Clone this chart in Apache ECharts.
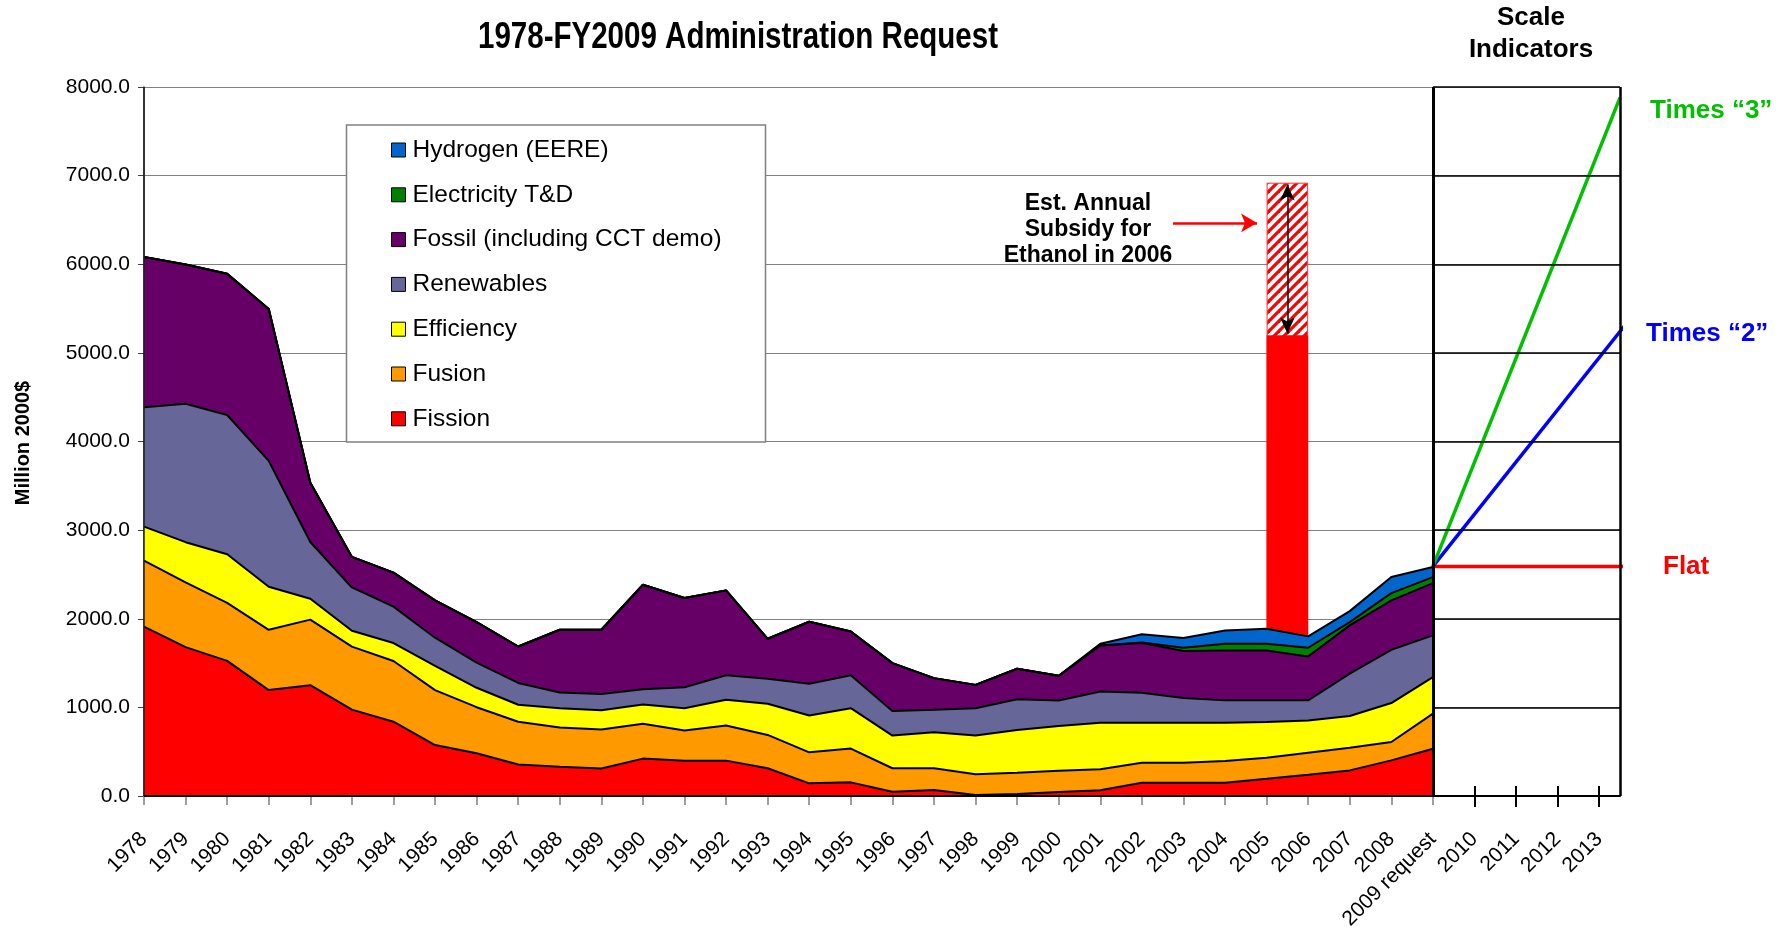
<!DOCTYPE html>
<html>
<head>
<meta charset="utf-8">
<script src="https://cdn.jsdelivr.net/npm/echarts@6/dist/echarts.min.js"></script>
<style>
  html, body { margin: 0; padding: 0; background: #fff; }
  #main { width: 1790px; height: 936px; }
</style>
</head>
<body>
<div id="main"></div>
<script>
// categories on the x axis (index = position on the value axis)
var years = ['1978','1979','1980','1981','1982','1983','1984','1985','1986','1987',
  '1988','1989','1990','1991','1992','1993','1994','1995','1996','1997',
  '1998','1999','2000','2001','2002','2003','2004','2005','2006','2007',
  '2008','2009 request'];
var futureYears = ['2010','2011','2012','2013'];
var yTicks = [0, 1000, 2000, 3000, 4000, 5000, 6000, 7000, 8000];

// Million 2000$, one value per year
var fission = [1910,1680,1525,1195,1250,975,838,575,482,356,
  331,310,422,399,399,313,143,154,49,68,
  11,22,45,64,150,150,150,195,241,289,
  402,534];
var fusion = [745,730,655,680,740,710,685,620,520,482,
  441,440,392,339,396,376,350,381,264,245,
  234,240,241,237,226,226,245,237,248,256,
  207,395];
var efficiency = [384,454,547,487,235,180,203,274,219,192,
  219,218,218,253,290,351,415,456,369,406,
  437,482,504,526,451,451,432,403,364,357,
  440,413];
var renewables = [1347,1561,1572,1419,641,488,411,317,285,246,
  177,184,173,237,278,282,358,372,278,253,
  309,347,288,353,338,278,252,244,226,478,
  601,470];
var fossil = [1697,1572,1594,1714,668,345,383,422,455,411,
  708,724,1179,1006,957,452,700,494,539,358,
  263,345,278,519,561,530,564,564,496,545,
  557,590];
var electricity = [0,0,0,0,0,0,0,0,0,0,
  0,0,0,0,0,0,0,0,0,0,
  0,0,0,0,5,38,75,75,98,37,
  82,68];
var hydrogen = [0,0,0,0,0,0,0,0,0,0,
  0,0,0,0,0,0,0,0,0,0,
  0,0,0,19,94,109,150,169,128,124,
  181,113];

// ethanol subsidy bar, placed between 2005 and 2006
var ethanolPos = 27.5;
var ethanolBase = 5200;
var ethanolSubsidy = 1720;

// scale indicator lines starting from the 2009 request total
var flatLine = [[31, 2590], [35.6, 2590]];
var times2Line = [[31, 2590], [35.6, 5300]];
var times3Line = [[31, 2590], [35.5, 7880]];

var arial = '"Liberation Sans", Arial, sans-serif';

var gridLeft = 144, gridRight = 170, gridTop = 87, gridBottom = 140;
var xMax = 35.5;
var unitPx = (1790 - gridLeft - gridRight) / xMax;

function range(a, b) {
  var r = [];
  for (var i = a; i <= b; i++) r.push(i);
  return r;
}
function labelOf(v) {
  var all = years.concat(futureYears);
  return all[Math.round(v)] || '';
}

function hatch() {
  var c = document.createElement('canvas');
  c.width = 10; c.height = 10;
  var ctx = c.getContext('2d');
  ctx.fillStyle = '#ffffff';
  ctx.fillRect(0, 0, 10, 10);
  ctx.strokeStyle = '#ff0000';
  ctx.lineWidth = 3.2;
  for (var i = -10; i <= 10; i += 10) {
    ctx.beginPath();
    ctx.moveTo(i - 1, 11);
    ctx.lineTo(i + 11, -1);
    ctx.stroke();
  }
  return c;
}

// bottom to top
var layers = [
  { name: 'Fission', data: fission, color: '#ff0000' },
  { name: 'Fusion', data: fusion, color: '#ff9900' },
  { name: 'Efficiency', data: efficiency, color: '#ffff00' },
  { name: 'Renewables', data: renewables, color: '#666699' },
  { name: 'Fossil (including CCT demo)', data: fossil, color: '#660066' },
  { name: 'Electricity T&D', data: electricity, color: '#008000' },
  { name: 'Hydrogen (EERE)', data: hydrogen, color: '#0066cc' }
];

// value x axis does not stack on y, so add the layers up here
var running = years.map(function () { return 0; });
var series = layers.map(function (l) {
  running = running.map(function (s, i) { return s + l.data[i]; });
  return {
    name: l.name,
    type: 'line',
    z: 3,
    data: running.map(function (v, i) { return [i, v]; }),
    symbol: 'none',
    color: l.color,
    lineStyle: { color: '#000', width: 2 },
    areaStyle: { color: l.color, opacity: 1 }
  };
}).reverse();

function ln(c, w) { return { color: c, width: w, type: 'solid' }; }

var boxLines = [
  { xAxis: 0, lineStyle: ln('#202020', 1.5) },
  { yAxis: 0, lineStyle: ln('#000', 2) },
  { xAxis: 31, lineStyle: ln('#000', 3) },
  { xAxis: xMax, lineStyle: ln('#000', 2.5) }
];
yTicks.slice(1).forEach(function (v) {
  boxLines.push([{ coord: [31, v], lineStyle: ln('#000', 1.5) }, { coord: [xMax, v] }]);
});

series.push({
  name: 'ethanol subsidy',
  type: 'bar',
  z: 1,
  barWidth: unitPx,
  barGap: '-100%',
  data: [[ethanolPos, ethanolBase + ethanolSubsidy]],
  itemStyle: { color: { image: hatch(), repeat: 'repeat' }, borderColor: '#ff3333', borderWidth: 1 },
  markLine: {
    silent: true, animation: false, z: 6,
    label: { show: false },
    data: [
      [{ coord: [ethanolPos, ethanolBase + ethanolSubsidy - 20], symbol: 'arrow', symbolSize: [11, 16],
         lineStyle: ln('#000', 1.5) },
       { coord: [ethanolPos, ethanolBase + 20], symbol: 'arrow', symbolSize: [11, 16] }],
      [{ coord: [24.75, 6466], symbol: 'none', lineStyle: ln('#ff0000', 2.5) },
       { coord: [26.77, 6466], symbol: 'arrow', symbolSize: [14, 16] }]
    ]
  }
});
series.push({
  name: 'ethanol',
  type: 'bar',
  z: 1,
  barWidth: unitPx,
  barGap: '-100%',
  data: [[ethanolPos, ethanolBase]],
  itemStyle: { color: '#ff0000' }
});

series.push({
  name: 'Flat', type: 'line', z: 5, symbol: 'none', data: flatLine,
  lineStyle: { color: '#ff0000', width: 3.5 },
  markLine: {
    silent: true, animation: false, symbol: 'none', z: 6,
    label: { show: false },
    data: boxLines
  }
});
series.push({
  name: 'Times 2', type: 'line', z: 5, symbol: 'none', data: times2Line,
  lineStyle: { color: '#0000ff', width: 3.5 }
});
series.push({
  name: 'Times 3', type: 'line', z: 5, symbol: 'none', data: times3Line,
  lineStyle: { color: '#00c000', width: 3.5 }
});

var chart = echarts.init(document.getElementById('main'));
chart.setOption({
  animation: false,
  backgroundColor: '#fff',
  grid: { left: gridLeft, right: gridRight, top: gridTop, bottom: gridBottom, outerBoundsMode: 'none' },
  legend: {
    data: layers.map(function (l) { return l.name; }).reverse(),
    orient: 'vertical',
    left: 391, top: 135,
    padding: 0,
    itemGap: 14.8,
    itemWidth: 14, itemHeight: 14,
    icon: 'rect',
    z: 11,
    selectedMode: false,
    itemStyle: { borderColor: '#000', borderWidth: 1 },
    textStyle: { fontFamily: arial, fontSize: 24.5, lineHeight: 30, color: '#000', padding: [0, 0, 0, 2] }
  },
  xAxis: [{
    type: 'value', min: 0, max: xMax, position: 'bottom',
    axisLine: { show: true, onZero: false, lineStyle: { color: '#000', width: 2 } },
    axisTick: { show: true, customValues: range(0, 31), length: 9, lineStyle: { color: '#808080', width: 1.5 } },
    axisLabel: { customValues: range(0, 31), formatter: labelOf, rotate: 45, margin: 40,
      fontFamily: arial, fontSize: 21, color: '#000' },
    splitLine: { show: false }
  }, {
    type: 'value', min: 0, max: xMax, position: 'bottom',
    axisLine: { show: false },
    axisTick: { show: true, customValues: range(32, 35), length: 11, lineStyle: { color: '#000', width: 2 } },
    axisLabel: { customValues: range(32, 35), formatter: labelOf, rotate: 45, margin: 40,
      fontFamily: arial, fontSize: 21, color: '#000' },
    splitLine: { show: false }
  }, {
    type: 'value', min: 0, max: xMax, position: 'bottom',
    axisLine: { show: false },
    axisTick: { show: true, inside: true, customValues: range(32, 35), length: 10, lineStyle: { color: '#000', width: 2 } },
    axisLabel: { show: false },
    splitLine: { show: false }
  }],
  yAxis: {
    type: 'value', min: 0, max: 8000, interval: 1000,
    axisLine: { show: true, lineStyle: { color: '#404040', width: 1.5 } },
    axisTick: { show: true, length: 6, lineStyle: { color: '#404040' } },
    axisLabel: { formatter: function (v) { return v.toFixed(1); }, margin: 14,
      fontFamily: arial, fontSize: 21, color: '#000' },
    splitLine: { show: true, lineStyle: { color: '#808080', width: 1.2 } }
  },
  graphic: [
    { type: 'rect', z: 10, shape: { x: 346.5, y: 125, width: 419, height: 317 },
      style: { fill: '#fff', stroke: '#808080', lineWidth: 1.5 } },
    { type: 'text', z: 10, x: 738, y: 38, scaleX: 0.82,
      style: { text: '1978-FY2009 Administration Request', fontFamily: arial, fontWeight: 'bold', fontSize: 36,
        fill: '#000', align: 'center', verticalAlign: 'middle', textAlign: 'center', textVerticalAlign: 'middle' } },
    { type: 'text', z: 10, x: 1531, y: 34,
      style: { text: 'Scale\nIndicators', fontFamily: arial, fontWeight: 'bold', fontSize: 26, lineHeight: 32,
        fill: '#000', align: 'center', verticalAlign: 'middle', textAlign: 'center', textVerticalAlign: 'middle' } },
    { type: 'text', z: 10, x: 1650, y: 111,
      style: { text: 'Times \u201c3\u201d', fontFamily: arial, fontWeight: 'bold', fontSize: 26,
        fill: '#00c000', align: 'left', verticalAlign: 'middle', textAlign: 'left', textVerticalAlign: 'middle' } },
    { type: 'text', z: 10, x: 1646, y: 334,
      style: { text: 'Times \u201c2\u201d', fontFamily: arial, fontWeight: 'bold', fontSize: 26,
        fill: '#0000ff', align: 'left', verticalAlign: 'middle', textAlign: 'left', textVerticalAlign: 'middle' } },
    { type: 'text', z: 10, x: 1663, y: 567,
      style: { text: 'Flat', fontFamily: arial, fontWeight: 'bold', fontSize: 26,
        fill: '#ff0000', align: 'left', verticalAlign: 'middle', textAlign: 'left', textVerticalAlign: 'middle' } },
    { type: 'text', z: 10, x: 1088, y: 230,
      style: { text: 'Est. Annual\nSubsidy for\nEthanol in 2006', fontFamily: arial, fontWeight: 'bold', fontSize: 23,
        lineHeight: 26, fill: '#000', align: 'center', verticalAlign: 'middle', textAlign: 'center', textVerticalAlign: 'middle' } },
    { type: 'text', z: 10, x: 23, y: 443, rotation: Math.PI / 2,
      style: { text: 'Million 2000$', fontFamily: arial, fontWeight: 'bold', fontSize: 20,
        fill: '#000', align: 'center', verticalAlign: 'middle', textAlign: 'center', textVerticalAlign: 'middle' } }
  ],
  series: series
});
</script>
</body>
</html>
